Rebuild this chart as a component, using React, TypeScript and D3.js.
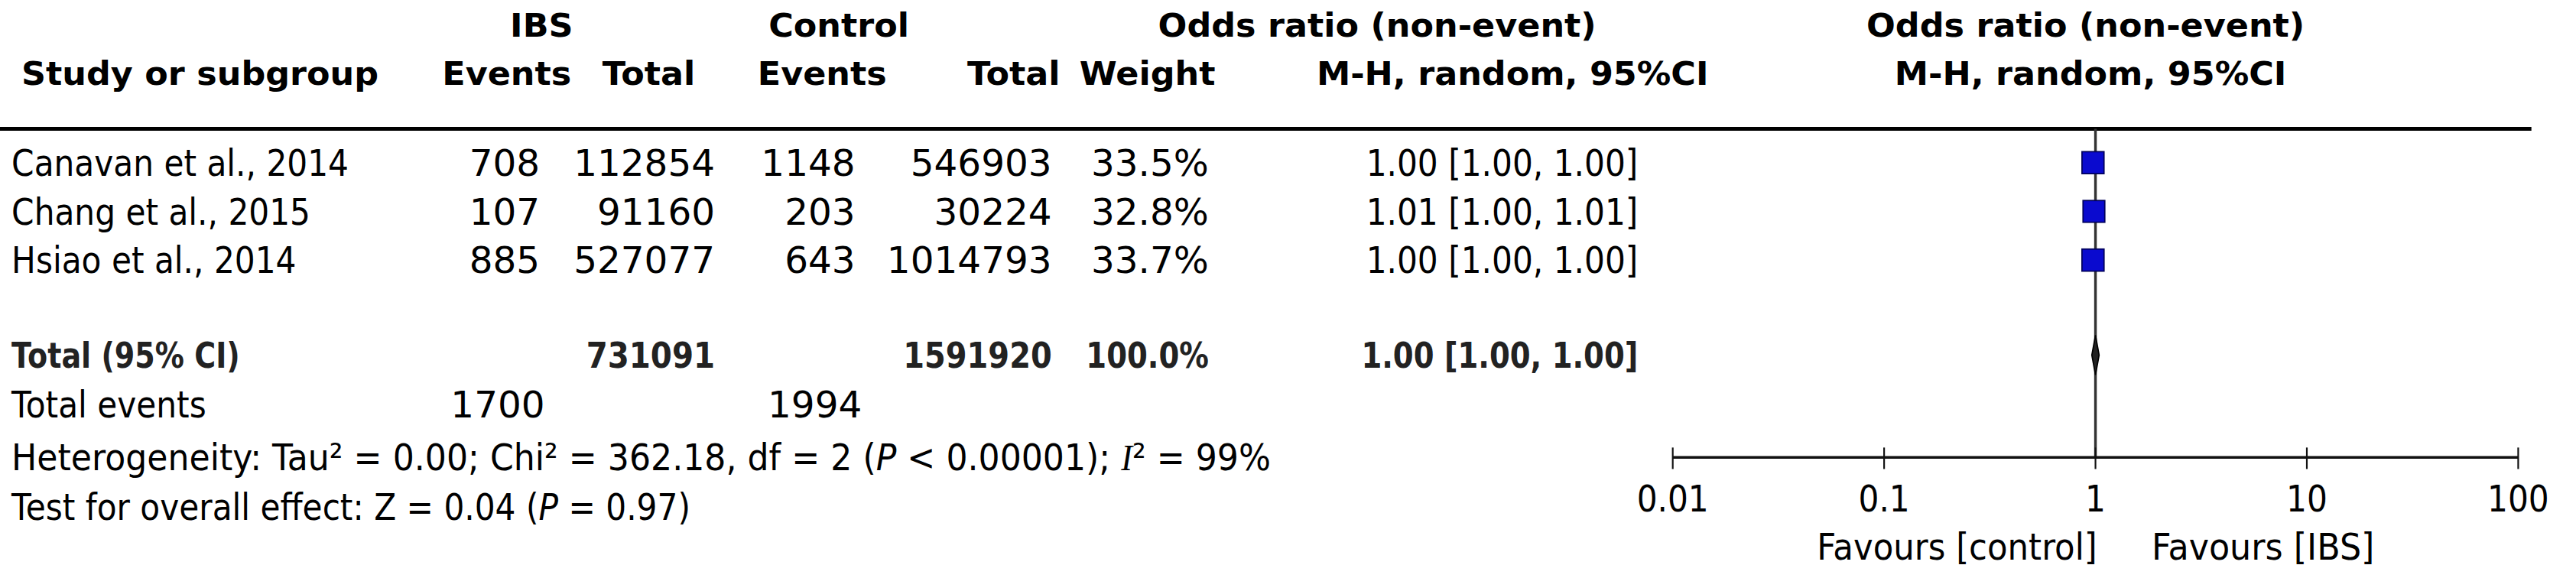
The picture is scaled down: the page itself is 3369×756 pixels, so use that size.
import React from "react";
import * as d3 from "d3";

// study rows
const studies = ["Canavan et al., 2014", "Chang et al., 2015", "Hsiao et al., 2014"];
const ibsEvents = [708, 107, 885];
const ibsTotal = [112854, 91160, 527077];
const ctrlEvents = [1148, 203, 643];
const ctrlTotal = [546903, 30224, 1014793];
const weights = [33.5, 32.8, 33.7];
const oddsRatio = [1.0, 1.01, 1.0];
const ciLow = [1.0, 1.0, 1.0];
const ciHigh = [1.0, 1.01, 1.0];

// pooled estimate
const pooled = { or: 1.0, lo: 0.998, hi: 1.002 };

const axisTicks = [0.01, 0.1, 1, 10, 100];
const tickLabels = ["0.01", "0.1", "1", "10", "100"];

const heterogeneity = { tau2: "0.00", chi2: "362.18", df: 2, p: "< 0.00001", i2: "99%" };
const overall = { z: "0.04", p: "= 0.97" };

// layout in viewBox units (the picture at 1/2.16)
const VW = 1560;
const VH = 350;
const FONT = "DejaVu Sans, Verdana, sans-serif";
const SIZE = 22;
const HEAD = 20;

// horizontal squeeze per kind of text
const SX_TEXT = 0.89;
const SX_NUM = 1.02;
const SX_HEAD = 1.03;
const SX_TOTAL = 0.85;

const col = {
  study: 7,
  ibsEv: 327,
  ibsTot: 433,
  ctrlEv: 518,
  ctrlTot: 637,
  weight: 732,
  ci: 992,
};

type TProps = {
  x: number;
  y: number;
  anchor?: "start" | "middle" | "end";
  bold?: boolean;
  size?: number;
  sx?: number;
  fill?: string;
  children: React.ReactNode;
};

const T = ({ x, y, anchor = "start", bold = false, size = SIZE, sx = SX_TEXT, fill = "#000", children }: TProps) => (
  <text
    transform={`translate(${x},${y}) scale(${sx},1)`}
    textAnchor={anchor}
    fontFamily={FONT}
    fontWeight={bold ? "bold" : "normal"}
    fontSize={size}
    dy="0.36em"
    fill={fill}
  >
    {children}
  </text>
);

const H = (p: TProps) => <T bold size={HEAD} sx={SX_HEAD} {...p} />;

const fmt = (v: number) => v.toFixed(2);
const ciText = (o: number, l: number, h: number) => `${fmt(o)} [${fmt(l)}, ${fmt(h)}]`;

export default function App() {
  const x = d3.scaleLog().domain([0.01, 100]).range([1013, 1525]);
  const rowY = d3.scalePoint<string>().domain(studies).range([98.5, 157.5]);
  const boxSize = d3.scaleSqrt().domain([0, 100]).range([0, 23]);

  const ruleY = 78;
  const totalY = 215;
  const eventsY = 245;
  const hetY = 277;
  const testY = 307;
  const axisY = 277;

  const totIbs = d3.sum(ibsTotal);
  const totCtrl = d3.sum(ctrlTotal);
  const evIbs = d3.sum(ibsEvents);
  const evCtrl = d3.sum(ctrlEvents);
  const totW = d3.sum(weights);

  const x1 = x(1);
  const dHalf = Math.max((x(pooled.hi) - x(pooled.lo)) / 2, 2.2);
  const cx = x(pooled.or);
  const diamond = `M${cx - dHalf},${totalY} L${cx},${totalY - 12} L${cx + dHalf},${totalY} L${cx},${totalY + 12} Z`;

  return (
    <svg
      width={3369}
      height={756}
      viewBox={`0 0 ${VW} ${VH}`}
      preserveAspectRatio="none"
      style={{ position: "absolute", left: 0, top: 0, background: "#fff" }}
    >
      {/* headers */}
      <H x={328} y={15} anchor="middle">IBS</H>
      <H x={508} y={15} anchor="middle">Control</H>
      <H x={834} y={15} anchor="middle">Odds ratio (non-event)</H>
      <H x={x1 - 6} y={15} anchor="middle">Odds ratio (non-event)</H>
      <H x={13} y={44}>Study or subgroup</H>
      <H x={346} y={44} anchor="end">Events</H>
      <H x={421} y={44} anchor="end">Total</H>
      <H x={537} y={44} anchor="end">Events</H>
      <H x={642} y={44} anchor="end">Total</H>
      <H x={736} y={44} anchor="end">Weight</H>
      <H x={916} y={44} anchor="middle">M-H, random, 95%CI</H>
      <H x={x1 - 3} y={44} anchor="middle">M-H, random, 95%CI</H>

      <line x1={0} x2={1533} y1={ruleY} y2={ruleY} stroke="#000" strokeWidth={2.4} />

      {/* line of no effect */}
      <line x1={x1} x2={x1} y1={ruleY} y2={axisY} stroke="#333" strokeWidth={1.6} />

      {/* study rows */}
      {studies.map((s, i) => {
        const y = rowY(s)!;
        const b = boxSize(weights[i]);
        return (
          <g key={s}>
            <T x={col.study} y={y}>{s}</T>
            <T x={col.ibsEv} y={y} anchor="end" sx={SX_NUM}>{ibsEvents[i]}</T>
            <T x={col.ibsTot} y={y} anchor="end" sx={SX_NUM}>{ibsTotal[i]}</T>
            <T x={col.ctrlEv} y={y} anchor="end" sx={SX_NUM}>{ctrlEvents[i]}</T>
            <T x={col.ctrlTot} y={y} anchor="end" sx={SX_NUM}>{ctrlTotal[i]}</T>
            <T x={col.weight} y={y} anchor="end" sx={SX_NUM}>{weights[i].toFixed(1)}%</T>
            <T x={col.ci} y={y} anchor="end">{ciText(oddsRatio[i], ciLow[i], ciHigh[i])}</T>
            <line x1={x(ciLow[i])} x2={x(ciHigh[i])} y1={y} y2={y} stroke="#000" strokeWidth={1} />
            <rect
              x={x(oddsRatio[i]) - b / 2 - 1.5}
              y={y - b / 2}
              width={b}
              height={b}
              fill="#0a0acf"
              stroke="#00005a"
              strokeWidth={0.8}
            />
          </g>
        );
      })}

      {/* total */}
      <T x={col.study} y={totalY} bold size={21} sx={0.84} fill="#222">Total (95% CI)</T>
      <T x={col.ibsTot} y={totalY} anchor="end" bold size={21} sx={SX_TOTAL + 0.04} fill="#222">{totIbs}</T>
      <T x={col.ctrlTot} y={totalY} anchor="end" bold size={21} sx={SX_TOTAL + 0.03} fill="#222">{totCtrl}</T>
      <T x={col.weight} y={totalY} anchor="end" bold size={21} sx={SX_TOTAL} fill="#222">{totW.toFixed(1)}%</T>
      <T x={col.ci} y={totalY} anchor="end" bold size={21} sx={SX_TOTAL} fill="#222">{ciText(pooled.or, pooled.lo, pooled.hi)}</T>
      <path d={diamond} fill="#222" stroke="#000" strokeWidth={0.8} />

      <T x={col.study} y={eventsY}>Total events</T>
      <T x={col.ibsEv + 3} y={eventsY} anchor="end" sx={SX_NUM}>{evIbs}</T>
      <T x={col.ctrlEv + 4} y={eventsY} anchor="end" sx={SX_NUM}>{evCtrl}</T>

      <T x={col.study} y={hetY} sx={0.93}>
        {`Heterogeneity: Tau² = ${heterogeneity.tau2}; Chi² = ${heterogeneity.chi2}, df = ${heterogeneity.df} (`}
        <tspan fontStyle="italic">P</tspan>
        {` ${heterogeneity.p});  `}
        <tspan fontStyle="italic" fontFamily="Liberation Serif, serif">I</tspan>
        {`² = ${heterogeneity.i2}`}
      </T>
      <T x={col.study} y={testY}>
        {`Test for overall effect: Z = ${overall.z} (`}
        <tspan fontStyle="italic">P</tspan>
        {` ${overall.p})`}
      </T>

      {/* axis */}
      <line x1={x(0.01)} x2={x(100)} y1={axisY} y2={axisY} stroke="#111" strokeWidth={1.6} />
      {axisTicks.map((t, i) => (
        <g key={t}>
          <line x1={x(t)} x2={x(t)} y1={axisY - 6} y2={axisY + 7} stroke="#111" strokeWidth={1} />
          <T x={x(t)} y={302} anchor="middle">{tickLabels[i]}</T>
        </g>
      ))}
      <T x={x1 + 1} y={331} anchor="end" sx={0.915}>Favours [control]</T>
      <T x={x1 + 34} y={331} sx={0.935}>Favours [IBS]</T>
    </svg>
  );
}
